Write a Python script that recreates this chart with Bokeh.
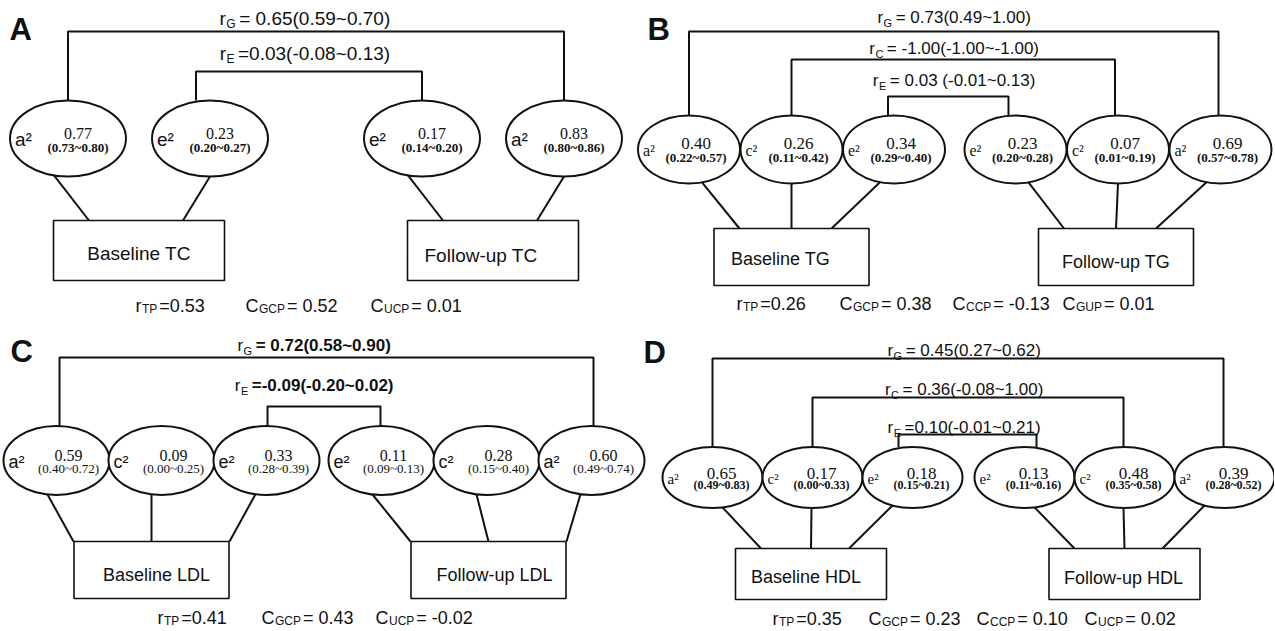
import math
from bokeh.plotting import figure
from bokeh.models import Range1d, ColumnDataSource
from bokeh.core.properties import value
from bokeh.embed import file_html
from bokeh.resources import INLINE

# ---------------------------------------------------------------- data
panel_ids = ["A", "B", "C", "D"]
traits = ["TC", "TG", "LDL", "HDL"]
time_points = ["Baseline", "Follow-up"]

# variance components, baseline group (left to right) then follow-up group
A_components = ["a", "e", "e", "a"]
A_estimates = [0.77, 0.23, 0.17, 0.83]
A_lower = [0.73, 0.20, 0.14, 0.80]
A_upper = [0.80, 0.27, 0.20, 0.86]

B_components = ["a", "c", "e", "e", "c", "a"]
B_estimates = [0.40, 0.26, 0.34, 0.23, 0.07, 0.69]
B_lower = [0.22, 0.11, 0.29, 0.20, 0.01, 0.57]
B_upper = [0.57, 0.42, 0.40, 0.28, 0.19, 0.78]

C_components = ["a", "c", "e", "e", "c", "a"]
C_estimates = [0.59, 0.09, 0.33, 0.11, 0.28, 0.60]
C_lower = [0.40, 0.00, 0.28, 0.09, 0.15, 0.49]
C_upper = [0.72, 0.25, 0.39, 0.13, 0.40, 0.74]

D_components = ["a", "c", "e", "e", "c", "a"]
D_estimates = [0.65, 0.17, 0.18, 0.13, 0.48, 0.39]
D_lower = [0.49, 0.00, 0.15, 0.11, 0.35, 0.28]
D_upper = [0.83, 0.33, 0.21, 0.16, 0.58, 0.52]

# cross-time correlations
A_corr_names = ["G", "E"]
A_corr = [0.65, 0.03]
A_corr_lower = [0.59, -0.08]
A_corr_upper = [0.70, 0.13]

B_corr_names = ["G", "C", "E"]
B_corr = [0.73, -1.00, 0.03]
B_corr_lower = [0.49, -1.00, -0.01]
B_corr_upper = [1.00, -1.00, 0.13]

C_corr_names = ["G", "E"]
C_corr = [0.72, -0.09]
C_corr_lower = [0.58, -0.20]
C_corr_upper = [0.90, 0.02]

D_corr_names = ["G", "C", "E"]
D_corr = [0.45, 0.36, 0.10]
D_corr_lower = [0.27, -0.08, -0.01]
D_corr_upper = [0.62, 1.00, 0.21]

# phenotypic correlation and contributions
A_stat_names = ["TP", "GCP", "UCP"]
A_stat_values = [0.53, 0.52, 0.01]
B_stat_names = ["TP", "GCP", "CCP", "GUP"]
B_stat_values = [0.26, 0.38, -0.13, 0.01]
C_stat_names = ["TP", "GCP", "UCP"]
C_stat_values = [0.41, 0.43, -0.02]
D_stat_names = ["TP", "GCP", "CCP", "UCP"]
D_stat_values = [0.35, 0.23, 0.10, 0.02]

DATA = {
    "A": (A_components, A_estimates, A_lower, A_upper, A_corr_names, A_corr, A_corr_lower, A_corr_upper, A_stat_names, A_stat_values),
    "B": (B_components, B_estimates, B_lower, B_upper, B_corr_names, B_corr, B_corr_lower, B_corr_upper, B_stat_names, B_stat_values),
    "C": (C_components, C_estimates, C_lower, C_upper, C_corr_names, C_corr, C_corr_lower, C_corr_upper, C_stat_names, C_stat_values),
    "D": (D_components, D_estimates, D_lower, D_upper, D_corr_names, D_corr, D_corr_lower, D_corr_upper, D_stat_names, D_stat_values),
}

# ---------------------------------------------------------------- layout / style
SANS = "Liberation Sans"
SERIF = "Liberation Serif"
INK = "#111111"

LAYOUT = {
    "A": dict(x0=67.5, step=142, gap=70, ey=138, ew=116, eh=76,
              box_w=171, box_h=60, box_top=220, box_dx=[0, 0], lab_dx=[0, -12], lab_dy=[3, 5], lab_size=19,
              sdx=[-14, 0], edx=[-50, 44],
              title_x=307, title_y=[18, 53], title_size=19, br_y=[31, 71], br_dx=[[0, 0], [-14, 0]],
              title_fmt=[" = {v}({lo}~{hi})", " ={v}({lo}~{hi})"], title_style="normal",
              letter=(9, 29), stat_y=305, stat_x=[135, 245, 370],
              comp_font=SANS, comp_size=19, comp_dx=5, val_size=16, ci_size=13, ci_style="bold",
              txt_dx=10, val_dy=-5, ci_dy=9),
    "B": dict(x0=688.5, step=102.5, gap=19, ey=149, ew=102, eh=68,
              box_w=155, box_h=57, box_top=228, box_dx=[0, -2], lab_dx=[-11, 0], lab_dy=[2, 5], lab_size=18,
              sdx=[13, 0, -14], edx=[-52, 0, 40],
              title_x=956, title_y=[17, 48, 80], title_size=17, br_y=[31, 59, 96],
              br_dx=[[0, -2], [0, -3], [-6, -7]],
              title_fmt=[" = {v}({lo}~{hi})", " = {v}({lo}~{hi})", " = {v} ({lo}~{hi})"], title_style="normal",
              letter=(647, 29), stat_y=303, stat_x=[736, 839, 952, 1062],
              comp_font=SERIF, comp_size=16, comp_dx=5, val_size=17, ci_size=13, ci_style="bold",
              txt_dx=7, val_dy=-6, ci_dy=8),
    "C": dict(x0=56, step=105, gap=10, ey=460, ew=106, eh=69,
              box_w=155, box_h=57, box_top=541, box_dx=[-10, 2], lab_dx=[5, 6], lab_dy=[5, 5], lab_size=18,
              sdx=[-9, -10, -11], edx=[-78, 0, 78],
              title_x=316, title_y=[345, 385], title_size=17, br_y=[357, 406], br_dx=[[3, 2], [1, -1]],
              title_fmt=[" = {v}({lo}~{hi})", " ={v}({lo}~{hi})"], title_style="bold",
              letter=(10, 351), stat_y=617, stat_x=[157, 261, 375],
              comp_font=SANS, comp_size=18, comp_dx=5, val_size=16, ci_size=13, ci_style="normal",
              txt_dx=12, val_dy=-5, ci_dy=8),
    "D": dict(x0=712, step=100, gap=12, ey=477, ew=100, eh=61,
              box_w=151, box_h=51, box_top=548, box_dx=[-1.5, 0], lab_dx=[-5, -1], lab_dy=[3, 4], lab_size=18,
              sdx=[10, -1, -20], edx=[-50, 0, 38],
              title_x=966, title_y=[350, 389, 427], title_size=17, br_y=[358, 397, 434],
              br_dx=[[0, -1], [0, -1], [-14, 12]],
              title_fmt=[" = {v}({lo}~{hi})", " = {v}({lo}~{hi})", " ={v}({lo}~{hi})"], title_style="normal",
              letter=(643, 352), stat_y=618, stat_x=[772, 868, 976, 1084],
              comp_font=SERIF, comp_size=15, comp_dx=5, val_size=17, ci_size=12, ci_style="bold",
              txt_dx=9, val_dy=-4, ci_dy=7),
}

# approximate Arial / Liberation Sans advance widths (per 1000 em)
ARIAL = {"r": 333, "G": 778, "C": 722, "E": 667, "T": 611, "P": 667, "U": 722,
         " ": 278, "=": 584, ".": 278, "(": 333, ")": 333, "~": 584, "-": 333}


def aw(s, size):
    return sum(ARIAL.get(ch, 556) for ch in s) * size / 1000.0


IMG_W, IMG_H = 1274, 630


def Y(y_img):
    return IMG_H - y_img


p = figure(width=IMG_W, height=IMG_H, x_range=Range1d(0, IMG_W), y_range=Range1d(0, IMG_H),
           output_backend="svg", toolbar_location=None, min_border=0,
           x_axis_location=None, y_axis_location=None)
p.xgrid.visible = False
p.ygrid.visible = False
p.outline_line_color = None
p.background_fill_color = "white"
p.border_fill_color = "white"

texts = {}


def add_text(x, cy_img, s, font, size, style="normal", align="left"):
    key = (font, size, style, align)
    d = texts.setdefault(key, dict(x=[], y=[], text=[]))
    d["x"].append(x)
    d["y"].append(Y(cy_img))
    d["text"].append(s)


def composite(x, cy, prefix, sub, rest, size, sub_size, sub_drop, rest_style="normal", center=False, pad=2.5):
    w_pre = aw(prefix, size)
    w_sub = aw(sub, sub_size)
    w_rest = aw(rest, size)
    if center:
        x = x - (w_pre + w_sub + w_rest + pad) / 2
    add_text(x, cy, prefix, SANS, size)
    add_text(x + w_pre + 0.5, cy + sub_drop, sub, SANS, sub_size)
    add_text(x + w_pre + w_sub + pad, cy, rest, SANS, size, rest_style)


seg = dict(x0=[], y0=[], x1=[], y1=[])
brk = dict(xs=[], ys=[])
ell = dict(x=[], y=[], w=[], h=[])
box = dict(left=[], right=[], top=[], bottom=[])

comp_idx = {"G": "a", "C": "c", "E": "e"}

for pi, pid in enumerate(panel_ids):
    comps, est, lo, hi, cnames, cvals, clo, chi, snames, svals = DATA[pid]
    L = LAYOUT[pid]
    n = len(comps)
    half = n // 2
    ex = [L["x0"] + i * L["step"] + (L["gap"] if i >= half else 0) for i in range(n)]
    ey, ew, eh = L["ey"], L["ew"], L["eh"]
    etop = ey - eh / 2

    # ellipses and their texts
    for i in range(n):
        ell["x"].append(ex[i]); ell["y"].append(Y(ey)); ell["w"].append(ew); ell["h"].append(eh)
        add_text(ex[i] - ew / 2 + L["comp_dx"], ey + 1, comps[i] + "\u00b2", L["comp_font"], L["comp_size"])
        add_text(ex[i] + L["txt_dx"], ey + L["val_dy"], f"{est[i]:.2f}",
                 SERIF, L["val_size"], "normal", "center")
        add_text(ex[i] + L["txt_dx"], ey + L["ci_dy"], f"({lo[i]:.2f}~{hi[i]:.2f})",
                 SERIF, L["ci_size"], L["ci_style"], "center")

    # boxes with their labels and connecting paths
    for g in range(2):
        idx = list(range(g * half, (g + 1) * half))
        gc = sum(ex[i] for i in idx) / half + L["box_dx"][g]
        bl, br = gc - L["box_w"] / 2, gc + L["box_w"] / 2
        bt, bb = L["box_top"], L["box_top"] + L["box_h"]
        box["left"].append(bl); box["right"].append(br); box["top"].append(Y(bt)); box["bottom"].append(Y(bb))
        add_text(gc + L["lab_dx"][g], (bt + bb) / 2 + L["lab_dy"][g],
                 f"{time_points[g]} {traits[pi]}", SANS, L["lab_size"], "normal", "center")
        for j, i in enumerate(idx):
            sdx = L["sdx"][j]
            sy = ey + (eh / 2) * math.sqrt(max(0.0, 1 - (2 * sdx / ew) ** 2))
            seg["x0"].append(ex[i] + sdx); seg["y0"].append(Y(sy))
            seg["x1"].append(gc + L["edx"][j]); seg["y1"].append(Y(bt))

    # correlation brackets and titles
    for k, name in enumerate(cnames):
        c = comp_idx[name]
        il = [i for i in range(half) if comps[i] == c][0]
        ir = [i for i in range(half, n) if comps[i] == c][0]
        xl = ex[il] + L["br_dx"][k][0]
        xr = ex[ir] + L["br_dx"][k][1]
        yb = L["br_y"][k]
        brk["xs"].append([xl, xl, xr, xr])
        brk["ys"].append([Y(etop), Y(yb), Y(yb), Y(etop)])
        rest = L["title_fmt"][k].format(v=f"{cvals[k]:.2f}", lo=f"{clo[k]:.2f}", hi=f"{chi[k]:.2f}")
        ts = L["title_size"]
        composite(L["title_x"], L["title_y"][k], "r", name, rest, ts, round(ts * 0.62), 5,
                  L["title_style"], center=True, pad=4)

    # panel letter
    lx, ly = L["letter"]
    add_text(lx, ly, pid, SANS, 31, "bold")

    # bottom statistics
    for k, name in enumerate(snames):
        prefix = "r" if name == "TP" else "C"
        rest = (f"={svals[k]:.2f}" if name == "TP" else f"= {svals[k]:.2f}")
        composite(L["stat_x"][k], L["stat_y"], prefix, name, rest, 18, 12, 3)

p.multi_line(xs="xs", ys="ys", source=ColumnDataSource(brk), line_color=INK, line_width=2)
p.segment(x0="x0", y0="y0", x1="x1", y1="y1", source=ColumnDataSource(seg), line_color=INK, line_width=2)
p.ellipse(x="x", y="y", width="w", height="h", source=ColumnDataSource(ell),
          fill_color="white", line_color=INK, line_width=2)
p.quad(left="left", right="right", top="top", bottom="bottom", source=ColumnDataSource(box),
       fill_color="white", line_color=INK, line_width=1.6)

for (font, size, style, align), d in texts.items():
    p.text(x="x", y="y", text="text", source=ColumnDataSource(d), text_font=value(font),
           text_font_size=f"{size}px", text_font_style=style, text_align=align,
           text_baseline="middle", text_color=INK)

open("out.html", "w").write(file_html(p, INLINE))
